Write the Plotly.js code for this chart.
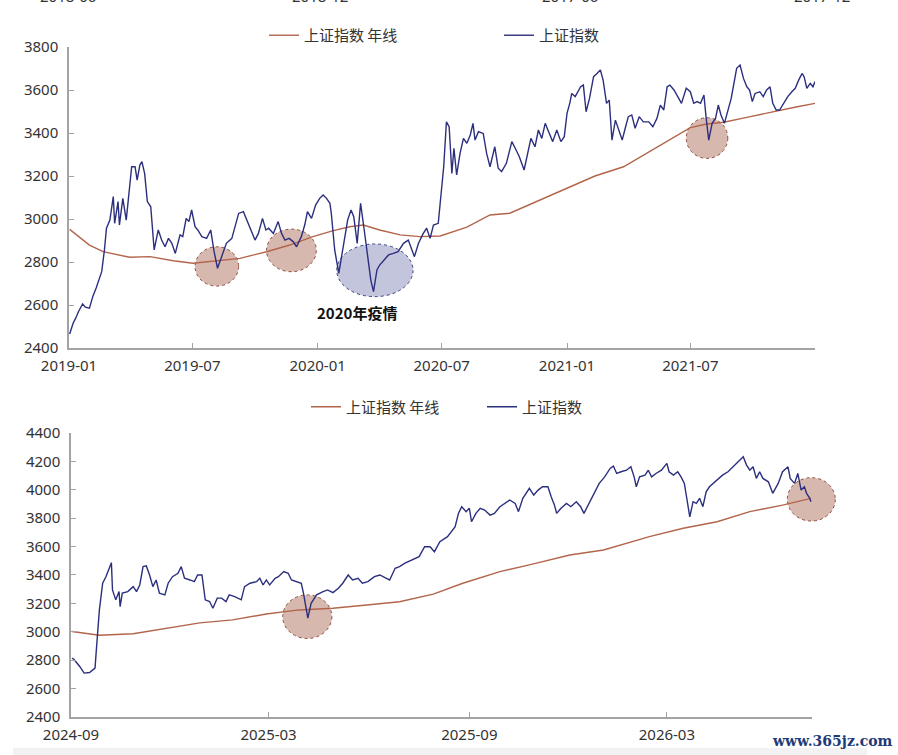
<!DOCTYPE html>
<html>
<head>
<meta charset="utf-8">
<script src="https://cdn.plot.ly/plotly-3.0.1.min.js"></script>
<style>
  html, body { margin: 0; padding: 0; background: #fff; }
  #chart { width: 898px; height: 755px; }
</style>
</head>
<body>
<div id="chart"></div>
<script>
// 上证指数 2019-01 ~ 2021-12 (roughly every few days)
var topDates = ['2019-01-02','2019-01-07','2019-01-11','2019-01-15','2019-01-21','2019-01-25','2019-01-31','2019-02-05','2019-02-10','2019-02-14',
  '2019-02-18','2019-02-22','2019-02-25','2019-03-02','2019-03-07','2019-03-09','2019-03-14','2019-03-16','2019-03-21','2019-03-26',
  '2019-03-31','2019-04-03','2019-04-08','2019-04-11','2019-04-15','2019-04-18','2019-04-22','2019-04-26','2019-05-01','2019-05-06',
  '2019-05-12','2019-05-17','2019-05-22','2019-05-27','2019-06-01','2019-06-06','2019-06-13','2019-06-17','2019-06-22','2019-06-26',
  '2019-06-30','2019-07-05','2019-07-09','2019-07-15','2019-07-22','2019-07-28','2019-08-02','2019-08-07','2019-08-13','2019-08-20',
  '2019-08-28','2019-09-02','2019-09-07','2019-09-14','2019-09-20','2019-09-26','2019-10-01','2019-10-06','2019-10-12','2019-10-17',
  '2019-10-21','2019-10-28','2019-11-04','2019-11-09','2019-11-14','2019-11-20','2019-11-26','2019-12-01','2019-12-08','2019-12-13',
  '2019-12-17','2019-12-23','2019-12-29','2020-01-04','2020-01-09','2020-01-14','2020-01-19','2020-01-21','2020-01-26','2020-02-01',
  '2020-02-07','2020-02-14','2020-02-19','2020-02-23','2020-02-28','2020-03-04','2020-03-09','2020-03-14','2020-03-19','2020-03-23',
  '2020-03-28','2020-04-01','2020-04-08','2020-04-14','2020-04-21','2020-04-28','2020-05-06','2020-05-13','2020-05-22','2020-05-28',
  '2020-06-04','2020-06-09','2020-06-14','2020-06-19','2020-06-26','2020-07-01','2020-07-04','2020-07-08','2020-07-12','2020-07-16',
  '2020-07-19','2020-07-23','2020-07-28','2020-08-02','2020-08-07','2020-08-12','2020-08-16','2020-08-19','2020-08-24','2020-08-31',
  '2020-09-05','2020-09-10','2020-09-17','2020-09-22','2020-09-27','2020-10-04','2020-10-12','2020-10-17','2020-10-23','2020-10-30',
  '2020-11-04','2020-11-09','2020-11-15','2020-11-20','2020-11-25','2020-11-30','2020-12-05','2020-12-11','2020-12-17','2020-12-23',
  '2020-12-28','2021-01-01','2021-01-05','2021-01-08','2021-01-13','2021-01-18','2021-01-21','2021-01-25','2021-01-29','2021-02-03',
  '2021-02-09','2021-02-14','2021-02-19','2021-02-23','2021-02-28','2021-03-04','2021-03-08','2021-03-13','2021-03-18','2021-03-23',
  '2021-03-28','2021-04-01','2021-04-06','2021-04-11','2021-04-17','2021-04-23','2021-05-01','2021-05-07','2021-05-13','2021-05-18',
  '2021-05-23','2021-05-28','2021-06-01','2021-06-07','2021-06-14','2021-06-18','2021-06-25','2021-07-01','2021-07-06','2021-07-11',
  '2021-07-16','2021-07-21','2021-07-24','2021-07-28','2021-08-02','2021-08-07','2021-08-11','2021-08-15','2021-08-20','2021-08-25',
  '2021-08-30','2021-09-03','2021-09-07','2021-09-12','2021-09-17','2021-09-22','2021-09-26','2021-09-30','2021-10-04','2021-10-11',
  '2021-10-16','2021-10-21','2021-10-26','2021-10-30','2021-11-04','2021-11-09','2021-11-15','2021-11-21','2021-11-27','2021-12-02',
  '2021-12-07','2021-12-12','2021-12-15','2021-12-19','2021-12-24','2021-12-28','2021-12-31'];
var topIndex = [2465,2515,2540,2570,2605,2590,2585,2640,2680,2720,
  2755,2856,2957,2995,3104,2980,3081,2972,3096,2995,
  3150,3243,3243,3181,3251,3267,3212,3081,3057,2856,
  2949,2902,2871,2910,2887,2840,2926,2918,3003,2988,
  3042,2964,2949,2918,2910,2949,2848,2771,2825,2887,
  2910,2964,3026,3034,2988,2949,2902,2933,3003,2949,
  2957,2933,2988,2933,2902,2910,2895,2871,2918,2972,
  3034,3003,3065,3096,3112,3096,3073,3026,2856,2747,
  2871,2995,3042,3011,2887,3073,2957,2825,2716,2662,
  2763,2786,2809,2833,2840,2848,2887,2902,2825,2887,
  2933,2957,2910,2972,2980,3135,3243,3452,3429,3212,
  3329,3205,3305,3375,3352,3391,3445,3367,3406,3398,
  3305,3243,3336,3236,3220,3259,3360,3329,3290,3228,
  3305,3375,3336,3414,3375,3445,3406,3360,3414,3360,
  3383,3491,3538,3584,3569,3600,3615,3623,3499,3561,
  3662,3677,3693,3646,3538,3553,3367,3460,3414,3367,
  3429,3476,3484,3422,3476,3452,3452,3429,3468,3530,
  3507,3615,3623,3600,3561,3538,3608,3592,3538,3546,
  3538,3577,3476,3367,3445,3468,3530,3484,3445,3507,
  3561,3631,3701,3716,3654,3615,3600,3546,3584,3592,
  3569,3600,3615,3538,3507,3507,3538,3569,3592,3608,
  3646,3677,3662,3608,3631,3615,3639];

// 上证指数 年线 (top)
var topMaDates = ['2019-01-02','2019-01-31','2019-02-20','2019-03-31','2019-04-30','2019-06-03','2019-07-02','2019-08-06','2019-09-09','2019-10-18',
  '2019-11-21','2019-12-25','2020-01-24','2020-02-17','2020-03-08','2020-04-01','2020-05-01','2020-05-30','2020-06-29','2020-08-07',
  '2020-09-10','2020-10-09','2020-11-20','2020-12-29','2021-02-11','2021-03-25','2021-04-28','2021-06-01','2021-07-01','2021-07-25',
  '2021-08-19','2021-09-22','2021-10-31','2021-12-05','2021-12-31'];
var topMa = [2952,2879,2848,2822,2825,2806,2794,2806,2817,2848,
  2879,2918,2946,2964,2972,2949,2926,2918,2921,2962,
  3019,3027,3085,3138,3200,3243,3305,3367,3425,3442,
  3450,3473,3500,3522,3538];

// 上证指数 2024-09 ~ 2026-07
var botDates = ['2024-09-02','2024-09-04','2024-09-09','2024-09-13','2024-09-18','2024-09-23','2024-09-24','2024-09-27','2024-09-30','2024-10-03',
  '2024-10-08','2024-10-09','2024-10-12','2024-10-15','2024-10-16','2024-10-18','2024-10-23','2024-10-28','2024-10-31','2024-11-03',
  '2024-11-06','2024-11-09','2024-11-12','2024-11-15','2024-11-18','2024-11-21','2024-11-26','2024-11-29','2024-12-03','2024-12-08',
  '2024-12-11','2024-12-14','2024-12-19','2024-12-23','2024-12-26','2024-12-30','2025-01-02','2025-01-06','2025-01-09','2025-01-13',
  '2025-01-17','2025-01-21','2025-01-24','2025-01-29','2025-02-04','2025-02-07','2025-02-12','2025-02-18','2025-02-21','2025-02-24',
  '2025-02-27','2025-03-02','2025-03-07','2025-03-10','2025-03-15','2025-03-19','2025-03-22','2025-03-26','2025-03-31','2025-04-02',
  '2025-04-04','2025-04-06','2025-04-09','2025-04-14','2025-04-20','2025-04-24','2025-04-29','2025-05-04','2025-05-08','2025-05-13',
  '2025-05-17','2025-05-22','2025-05-26','2025-05-31','2025-06-06','2025-06-11','2025-06-17','2025-06-20','2025-06-25','2025-06-29',
  '2025-07-04','2025-07-10','2025-07-17','2025-07-22','2025-07-27','2025-07-31','2025-08-05','2025-08-12','2025-08-19','2025-08-22',
  '2025-08-25','2025-08-29','2025-09-01','2025-09-03','2025-09-07','2025-09-11','2025-09-15','2025-09-20','2025-09-24','2025-09-29',
  '2025-10-03','2025-10-08','2025-10-13','2025-10-16','2025-10-20','2025-10-23','2025-10-26','2025-10-30','2025-11-03','2025-11-07',
  '2025-11-12','2025-11-15','2025-11-18','2025-11-20','2025-11-24','2025-11-29','2025-12-03','2025-12-08','2025-12-12','2025-12-15',
  '2025-12-19','2025-12-24','2025-12-29','2026-01-03','2026-01-08','2026-01-11','2026-01-14','2026-01-18','2026-01-23','2026-01-27',
  '2026-01-30','2026-02-01','2026-02-04','2026-02-09','2026-02-12','2026-02-15','2026-02-19','2026-02-24','2026-03-01','2026-03-03',
  '2026-03-07','2026-03-11','2026-03-14','2026-03-17','2026-03-19','2026-03-20','2026-03-22','2026-03-25','2026-03-28','2026-03-31',
  '2026-04-03','2026-04-06','2026-04-09','2026-04-14','2026-04-17','2026-04-21','2026-04-26','2026-05-01','2026-05-05','2026-05-10',
  '2026-05-13','2026-05-16','2026-05-19','2026-05-22','2026-05-25','2026-05-28','2026-06-02','2026-06-06','2026-06-11','2026-06-15',
  '2026-06-20','2026-06-22','2026-06-26','2026-06-29','2026-07-02','2026-07-05','2026-07-07','2026-07-10','2026-07-11'];
var botIndex = [2815,2803,2756,2709,2713,2744,2850,3154,3342,3388,
  3487,3295,3225,3283,3177,3272,3283,3318,3283,3330,
  3459,3464,3400,3318,3365,3272,3260,3342,3388,3412,
  3459,3377,3365,3353,3400,3400,3225,3213,3166,3237,
  3237,3213,3260,3248,3225,3318,3342,3353,3377,3330,
  3365,3330,3377,3388,3424,3412,3365,3353,3342,3272,
  3177,3096,3201,3260,3283,3295,3276,3307,3342,3400,
  3365,3377,3342,3353,3388,3400,3377,3365,3447,3459,
  3483,3506,3529,3600,3599,3564,3634,3670,3740,3834,
  3881,3846,3870,3775,3834,3870,3857,3822,3834,3881,
  3904,3928,3904,3846,3940,3975,4010,3963,3998,4021,
  4021,3951,3892,3834,3870,3904,3881,3916,3881,3834,
  3892,3975,4045,4091,4150,4167,4115,4127,4138,4162,
  4091,4021,4091,4103,4138,4091,4115,4138,4186,4127,
  4103,4127,4091,4045,3963,3904,3810,3916,3904,3940,
  3881,3986,4021,4056,4080,4103,4127,4162,4197,4232,
  4174,4138,4162,4080,4127,4080,4056,3975,4045,4127,
  4162,4080,4045,4115,3998,4021,3975,3940,3916];

// 上证指数 年线 (bottom)
var botMaDates = ['2024-09-02','2024-09-27','2024-10-28','2024-11-28','2024-12-28','2025-01-27','2025-02-27','2025-03-29','2025-04-29','2025-05-30',
  '2025-06-29','2025-07-30','2025-08-26','2025-09-29','2025-10-26','2025-12-02','2026-01-02','2026-02-13','2026-03-16','2026-04-16',
  '2026-05-16','2026-06-15','2026-07-11'];
var botMa = [3002,2976,2986,3026,3063,3084,3125,3154,3166,3189,
  3212,3265,3342,3424,3471,3541,3576,3670,3729,3775,
  3846,3892,3940];

var topTicks = ['2019-01','2019-07','2020-01','2020-07','2021-01','2021-07'];
var botTicks = ['2024-09','2025-03','2025-09','2026-03'];
// tick labels of a chart above, cropped off at the top edge of the picture
var cutTicks = ['2018-06','2018-12','2017-06','2017-12'];

var maName = '上证指数 年线';
var idxName = '上证指数';
var blue = '#2c2f7e';
var brown = '#b3654b';

var numFont = {family: 'Noto Sans, Noto Sans CJK SC, sans-serif', size: 15, color: '#333'};
var cjkFont = {family: 'Noto Sans CJK SC, Noto Sans, sans-serif', size: 15, color: '#333'};

var traces = [
  {x: topMaDates, y: topMa, name: maName, type: 'scatter', mode: 'lines',
   line: {color: brown, width: 1.4}, xaxis: 'x', yaxis: 'y', legend: 'legend'},
  {x: topDates, y: topIndex, name: idxName, type: 'scatter', mode: 'lines',
   line: {color: blue, width: 1.4}, xaxis: 'x', yaxis: 'y', legend: 'legend'},
  {x: botMaDates, y: botMa, name: maName, type: 'scatter', mode: 'lines',
   line: {color: brown, width: 1.4}, xaxis: 'x2', yaxis: 'y2', legend: 'legend2'},
  {x: botDates, y: botIndex, name: idxName, type: 'scatter', mode: 'lines',
   line: {color: blue, width: 1.4}, xaxis: 'x2', yaxis: 'y2', legend: 'legend2'}
];

function axisStyle(extra) {
  var a = {
    showgrid: false, zeroline: false, showline: true,
    linecolor: '#a3a3a3', linewidth: 1.5,
    ticks: 'inside', ticklen: 5, tickwidth: 1, tickcolor: '#a3a3a3',
    tickfont: numFont, fixedrange: true
  };
  for (var k in extra) a[k] = extra[k];
  return a;
}

var brownFill = 'rgba(160,85,65,0.42)';
var brownEdge = '#8e4b3c';
var blueFill = 'rgba(70,80,150,0.33)';
var blueEdge = '#3a3f7e';

function ellipse(xref, yref, x0, x1, y0, y1, fill, edge) {
  return {type: 'circle', xref: xref, yref: yref, x0: x0, x1: x1, y0: y0, y1: y1,
    fillcolor: fill, line: {color: edge, width: 1, dash: 'dot'}, layer: 'below'};
}

var shapes = [
  ellipse('x', 'y', '2019-07-05', '2019-09-07', 2688, 2871, brownFill, brownEdge),
  ellipse('x', 'y', '2019-10-18', '2019-12-30', 2755, 2953, brownFill, brownEdge),
  ellipse('x', 'y', '2020-01-29', '2020-05-20', 2639, 2884, blueFill, blueEdge),
  ellipse('x', 'y', '2021-06-25', '2021-08-25', 3282, 3471, brownFill, brownEdge),
  ellipse('x2', 'y2', '2025-03-14', '2025-04-28', 2953, 3260, brownFill, brownEdge),
  // last circle sticks out past the axis end, so it is placed on the paper
  ellipse('paper', 'paper', 0.9629, 1.0272, 0.2925, 0.3572, brownFill, brownEdge),
  {type: 'rect', xref: 'paper', yref: 'paper', x0: -0.075, x1: 1.07, y0: -0.046, y1: -0.07,
   fillcolor: '#f2f2f2', line: {width: 0}, layer: 'below'}
];

var annotations = [
  {x: '2020-02-28', y: 2564, xref: 'x', yref: 'y', text: '<b>2020年疫情</b>', showarrow: false,
   font: {family: 'Noto Sans CJK SC, sans-serif', size: 15, color: '#111'}},
  {x: 1.0228, y: -0.0358, xref: 'paper', yref: 'paper', xanchor: 'center', yanchor: 'middle',
   text: 'www.365jz.com', showarrow: false,
   font: {family: 'DejaVu Serif, serif', size: 14, color: '#1f3a78', weight: 'bold'}}
];
var cutX = [-0.0013, 0.3365, 0.6716, 1.0094];
cutTicks.forEach(function (t, i) {
  annotations.push({x: cutX[i], y: 1.058, xref: 'paper', yref: 'paper', text: t, showarrow: false,
    xanchor: 'center', yanchor: 'bottom', font: numFont});
});

var legendBase = {orientation: 'h', font: cjkFont, bgcolor: 'rgba(0,0,0,0)',
  xanchor: 'left', yanchor: 'middle', traceorder: 'normal', entrywidthmode: 'pixels'};

var layout = {
  width: 898, height: 755,
  margin: {l: 69, r: 83, t: 47, b: 38},
  paper_bgcolor: '#fff', plot_bgcolor: '#fff',
  showlegend: true,
  legend: Object.assign({}, legendBase, {x: 0.2614, y: 1.0172, entrywidth: 190}),
  legend2: Object.assign({}, legendBase, {x: 0.3177, y: 0.4627, entrywidth: 131}),
  xaxis: axisStyle({type: 'date', domain: [0, 1], anchor: 'y',
    range: ['2019-01-01', '2021-12-31'], tickvals: topTicks, ticktext: topTicks,
    ticklabelstandoff: 3}),
  yaxis: axisStyle({domain: [0.5507, 1], anchor: 'x', range: [2400, 3800], dtick: 200,
    tick0: 2400, ticklabelstandoff: 6}),
  xaxis2: axisStyle({type: 'date', domain: [0.0027, 0.996], anchor: 'y2',
    range: ['2024-09-01', '2026-07-12'], tickvals: botTicks, ticktext: botTicks,
    ticklabelstandoff: 3}),
  yaxis2: axisStyle({domain: [0, 0.4239], anchor: 'x2', range: [2400, 4400], dtick: 200,
    tick0: 2400, ticklabelstandoff: 6}),
  shapes: shapes,
  annotations: annotations
};

Plotly.newPlot('chart', traces, layout, {displayModeBar: false, responsive: false});
</script>
</body>
</html>
